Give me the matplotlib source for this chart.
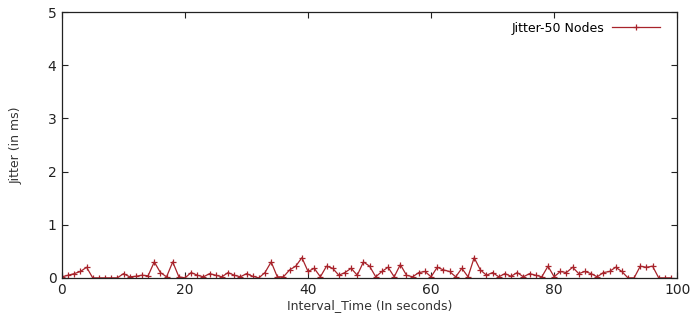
import matplotlib
matplotlib.use("Agg")
import matplotlib.pyplot as plt

interval_time = list(range(100))
jitter = [0.02, 0.05, 0.08, 0.12, 0.20, 0.00, 0.00, 0.00, 0.00, 0.00,
          0.08, 0.02, 0.03, 0.05, 0.04, 0.30, 0.10, 0.02, 0.30, 0.02,
          0.00, 0.10, 0.05, 0.02, 0.08, 0.05, 0.02, 0.10, 0.05, 0.02,
          0.08, 0.03, 0.00, 0.10, 0.30, 0.02, 0.02, 0.15, 0.22, 0.38,
          0.12, 0.18, 0.02, 0.22, 0.18, 0.05, 0.10, 0.18, 0.05, 0.30,
          0.22, 0.02, 0.12, 0.20, 0.02, 0.25, 0.05, 0.02, 0.10, 0.12,
          0.02, 0.20, 0.15, 0.12, 0.02, 0.18, 0.02, 0.38, 0.15, 0.05,
          0.10, 0.02, 0.08, 0.03, 0.10, 0.02, 0.08, 0.05, 0.02, 0.22,
          0.02, 0.12, 0.10, 0.20, 0.08, 0.12, 0.08, 0.02, 0.10, 0.12,
          0.20, 0.12, 0.00, 0.00, 0.22, 0.20, 0.22, 0.00, 0.00, 0.00]
series_label = "Jitter-50 Nodes"
x_ticks = [0, 20, 40, 60, 80, 100]
y_ticks = [0, 1, 2, 3, 4, 5]

fig = plt.figure(figsize=(6.91, 3.25), dpi=100)
ax = fig.add_axes([0.0897, 0.145, 0.8903, 0.818])
ax.plot(interval_time, jitter, color="#a8232b", lw=0.9, marker="+",
        markersize=5, markeredgewidth=0.9, label=series_label)
ax.set_xlim(0, 100)
ax.set_ylim(0, 5)
ax.set_xticks(x_ticks)
ax.set_yticks(y_ticks)
ax.tick_params(direction="in", top=True, right=True, length=4, width=0.8,
               labelsize=10, colors="#222222", pad=4)
for s in ax.spines.values():
    s.set_linewidth(0.9)
    s.set_color("#222222")
ax.set_xlabel("Interval_Time (In seconds)", fontsize=9, color="#333333", labelpad=1)
ax.set_ylabel("Jitter (in ms)", fontsize=9, color="#333333", labelpad=18)
leg = ax.legend(loc="upper right", frameon=False, markerfirst=False,
                fontsize=9, handlelength=3.8, handletextpad=0.6,
                borderaxespad=1.0, bbox_to_anchor=(1.0, 1.03))
fig.savefig("out.png", dpi=100)
